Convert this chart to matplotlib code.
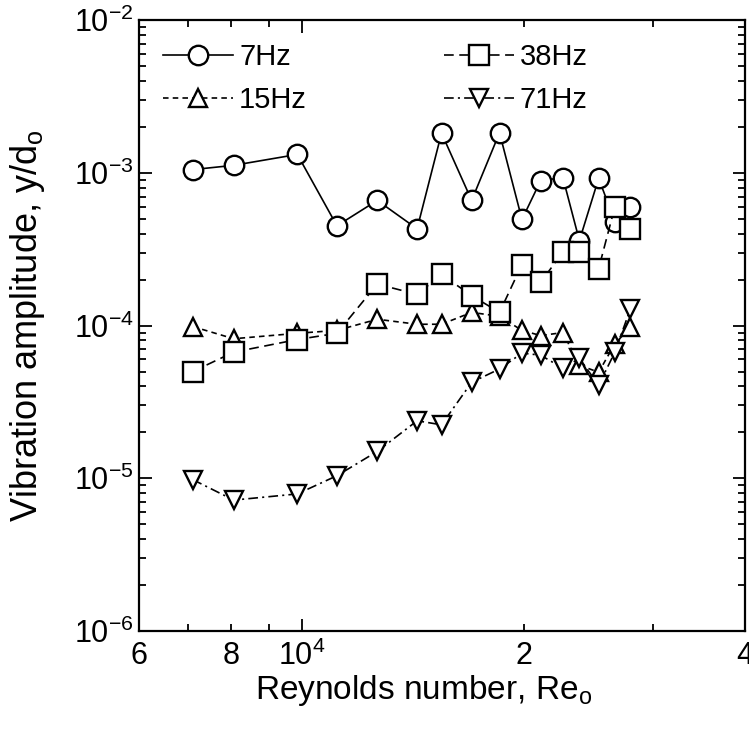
import numpy as np
import matplotlib
matplotlib.use("Agg")
import matplotlib.pyplot as plt
from matplotlib.ticker import LogLocator, FuncFormatter, NullFormatter

plt.rcParams['font.family'] = ['Liberation Sans', 'DejaVu Sans']
plt.rcParams['mathtext.fontset'] = 'custom'
plt.rcParams['mathtext.rm'] = 'Liberation Sans'
plt.rcParams['mathtext.it'] = 'Liberation Sans:italic'
plt.rcParams['font.size'] = 20
plt.rcParams['lines.scale_dashes'] = False

# Reynolds numbers (shared by all series)
re = [7100, 8070, 9850, 11150, 12650, 14330, 15470, 17000,
      18550, 19900, 21100, 22620, 23820, 25300, 26620, 27950]

amp_7hz = [1.05e-3, 1.12e-3, 1.32e-3, 4.5e-4, 6.6e-4, 4.3e-4, 1.82e-3, 6.6e-4,
           1.83e-3, 4.95e-4, 8.9e-4, 9.3e-4, 3.6e-4, 9.2e-4, 4.8e-4, 6.0e-4]
amp_15hz = [9.85e-5, 8.2e-5, 8.9e-5, 9.3e-5, 1.1e-4, 1.02e-4, 1.02e-4, 1.22e-4,
            1.15e-4, 9.3e-5, 8.6e-5, 9.0e-5, 5.5e-5, 4.95e-5, 7.6e-5, 9.75e-5]
amp_38hz = [5.0e-5, 6.7e-5, 8.1e-5, 8.9e-5, 1.87e-4, 1.6e-4, 2.16e-4, 1.57e-4,
            1.22e-4, 2.51e-4, 1.92e-4, 3.03e-4, 3.03e-4, 2.36e-4, 6.0e-4, 4.3e-4]
amp_71hz = [9.8e-6, 7.2e-6, 7.9e-6, 1.04e-5, 1.5e-5, 2.38e-5, 2.24e-5, 4.25e-5,
            5.2e-5, 6.6e-5, 6.4e-5, 5.25e-5, 6.1e-5, 4.07e-5, 6.7e-5, 1.29e-4]

fig = plt.figure(figsize=(7.49, 7.29), dpi=100)
ax = fig.add_axes([0.1856, 0.1344, 0.809, 0.838])

mk = dict(color='black', markerfacecolor='white', markeredgecolor='black',
          markeredgewidth=1.7, linewidth=1.2)
ax.plot(re, amp_7hz, marker='o', markersize=14, linestyle='-', label='7Hz', **mk)
ax.plot(re, amp_15hz, marker='^', markersize=13, linestyle=(0, (4, 3)), label='15Hz', **mk)
ax.plot(re, amp_38hz, marker='s', markersize=14, linestyle=(0, (7, 4)), label='38Hz', **mk)
ax.plot(re, amp_71hz, marker='v', markersize=13, linestyle=(0, (7, 3, 1.5, 3)), label='71Hz', **mk)

ax.set_xscale('log')
ax.set_yscale('log')
ax.set_xlim(6000, 40000)
ax.set_ylim(1e-6, 1e-2)

def ylab(v, pos):
    e = int(round(np.log10(v)))
    return r'$\mathregular{10^{%d}}$' % e

def xmajor(v, pos):
    return r'$\mathregular{10^{4}}$' if abs(v - 1e4) < 1 else ''

def xminor(v, pos):
    for t, s in [(6000, '6'), (8000, '8'), (20000, '2'), (40000, '4')]:
        if abs(v - t) < 1:
            return s
    return ''

ax.xaxis.set_major_locator(LogLocator(base=10, numticks=10))
ax.xaxis.set_minor_locator(LogLocator(base=10, subs=np.arange(2, 10), numticks=10))
ax.xaxis.set_major_formatter(FuncFormatter(xmajor))
ax.xaxis.set_minor_formatter(FuncFormatter(xminor))
ax.yaxis.set_major_locator(LogLocator(base=10, numticks=10))
ax.yaxis.set_minor_locator(LogLocator(base=10, subs=np.arange(2, 10), numticks=10))
ax.yaxis.set_major_formatter(FuncFormatter(ylab))
ax.yaxis.set_minor_formatter(NullFormatter())

ax.tick_params(which='both', direction='in', top=True, right=True, width=1.3)
ax.tick_params(which='major', length=9, labelsize=22)
ax.tick_params(which='minor', length=5, labelsize=22)
ax.tick_params(axis='x', which='both', pad=7)
ax.tick_params(axis='y', which='both', pad=4)
for sp in ax.spines.values():
    sp.set_linewidth(1.6)

ax.set_xlabel(r'Reynolds number, Re$_\mathregular{o}$', fontsize=24)
ax.set_ylabel(r'Vibration amplitude, y/d$_\mathregular{o}$', fontsize=26)
ax.xaxis.set_label_coords(0.47, -0.068)
ax.yaxis.set_label_coords(-0.152, 0.5)

ax.legend(loc='upper left', bbox_to_anchor=(0.04, 0.962), ncol=2, frameon=False,
          numpoints=1, handlelength=2.4, handletextpad=0.2, columnspacing=4.7,
          labelspacing=0.5, borderpad=0, borderaxespad=0, fontsize=21)

fig.savefig('out.png', dpi=100)
